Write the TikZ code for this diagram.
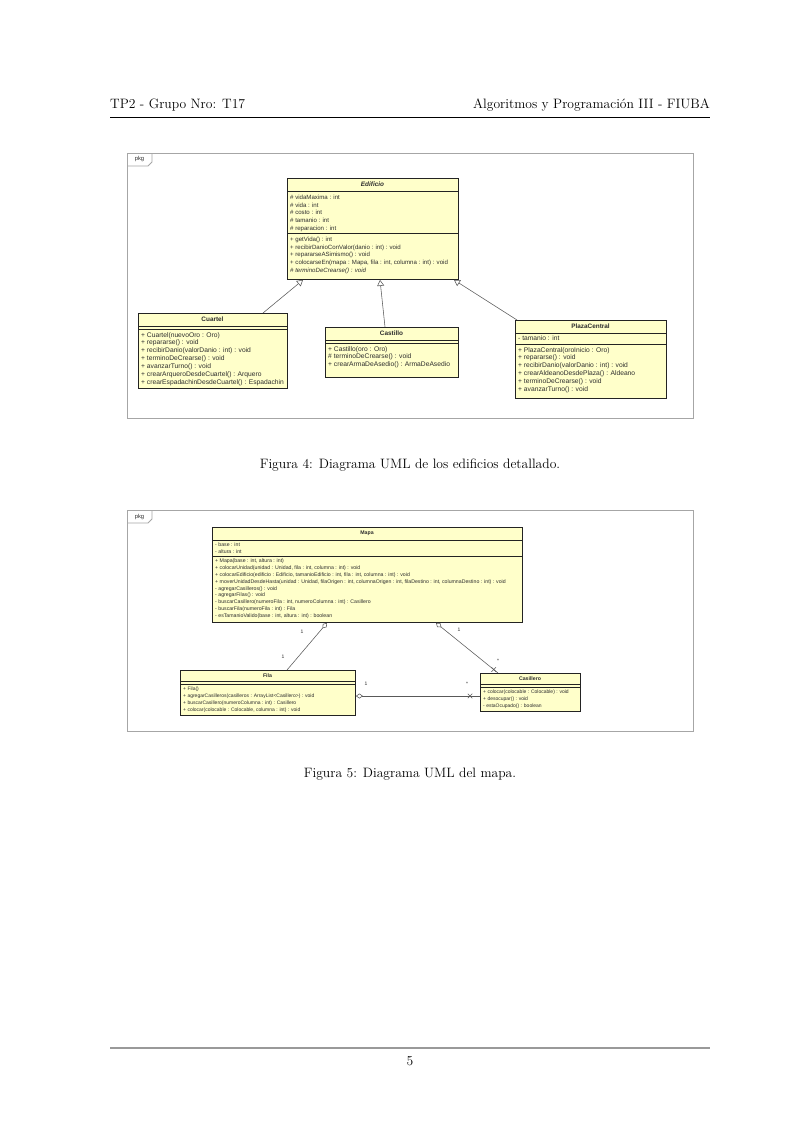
\documentclass[tikz,border=0pt]{standalone}
\usepackage{fontspec}
\newfontfamily\umlfont{Liberation Sans}
\usetikzlibrary{arrows.meta,calc,shapes.misc}
\definecolor{umlfill}{RGB}{255,255,202}
\definecolor{umlline}{RGB}{35,35,35}
\definecolor{umltext}{RGB}{45,45,45}
\newcommand{\pagefont}{\fontsize{13.6}{16}\selectfont}
\begin{document}
\begin{tikzpicture}[x=1pt,y=-1pt,
  cls/.style={draw=umlline, line width=0.9pt, fill=umlfill, inner sep=0, anchor=north west},
  sepline/.style={draw=umlline, line width=0.6pt},
  ttl/.style={inner sep=0, text=umltext, font=\umlfont\bfseries\fontsize{6.4}{7}\selectfont},
  ttlS/.style={inner sep=0, text=umltext, font=\umlfont\bfseries\fontsize{5.2}{6}\selectfont},
  mem/.style={anchor=north west, inner sep=0, align=left, text=umltext,
    font=\umlfont\fontsize{6.7}{7.9}\selectfont},
  memE/.style={mem, font=\umlfont\fontsize{6.1}{7.9}\selectfont},
  memS/.style={mem, font=\umlfont\fontsize{5.2}{6.9}\selectfont},
  memF/.style={mem, font=\umlfont\fontsize{5}{6.9}\selectfont},
  pkgframe/.style={draw=black!35, line width=0.8pt},
  tag/.style={inner sep=0, text=umltext, font=\umlfont\fontsize{5.8}{6}\selectfont},
  gen/.style={draw=black!65, line width=0.55pt, -{Triangle[open, length=6pt, width=7pt]}},
  agg/.style={draw=black!65, line width=0.55pt, {Diamond[open, length=7pt, width=5pt]}-},
  xmark/.style={draw=black!65, line width=0.55pt, cross out, minimum size=4pt, inner sep=0},
  mult/.style={inner sep=0, text=umltext, font=\umlfont\fontsize{5}{6}\selectfont},
  pagetext/.style={inner sep=0, font=\pagefont},
]
\useasboundingbox (0,0) rectangle (810,1145);
\fill[white] (0,0) rectangle (810,1145);

% running header
\node[pagetext, anchor=base west] (hleft) at (110,109) {TP2 - Grupo Nro: T17};
\node[pagetext, anchor=base east] (hright) at (710,109) {Algoritmos y Programación III - FIUBA};
\draw[line width=0.55pt] (110,117) -- (710,117);

% ---------- Figura 4: edificios ----------
\draw[pkgframe] (127,153) rectangle (693,418);
\draw[pkgframe] (127,166) -- (148,166) -- (152,162) -- (152,153);
\node[tag] (pkgA) at (139.5,159.5) {pkg};

% Edificio
\node[cls, minimum width=171, minimum height=101] (edif) at (287,178) {};
\draw[sepline] (287,191) -- (458,191);
\draw[sepline] (287,233) -- (458,233);
\node[ttl] (edifT) at (372.5,184.5) {\itshape Edificio};
\node[memE] (edifA) at (290,194.5) {\# vidaMaxima : int\\\# vida : int\\\# costo : int\\\# tamanio : int\\\# reparacion : int};
\node[memE] (edifM) at (290,236.5) {+ getVida() : int\\+ recibirDanioConValor(danio : int) : void\\+ repararseASimismo() : void\\+ colocarseEn(mapa : Mapa, fila : int, columna : int) : void\\\textit{\# terminoDeCrearse() : void}};

% Cuartel
\node[cls, minimum width=149, minimum height=75] (cuartel) at (138,313) {};
\draw[sepline] (138,326) -- (287,326);
\draw[sepline] (138,329) -- (287,329);
\node[ttl] (cuartelT) at (212.5,319.5) {Cuartel};
\node[mem] (cuartelM) at (141,332) {+ Cuartel(nuevoOro : Oro)\\+ repararse() : void\\+ recibirDanio(valorDanio : int) : void\\+ terminoDeCrearse() : void\\+ avanzarTurno() : void\\+ crearArqueroDesdeCuartel() : Arquero\\+ crearEspadachinDesdeCuartel() : Espadachin};

% Castillo
\node[cls, minimum width=133, minimum height=50] (castillo) at (325,327) {};
\draw[sepline] (325,340) -- (458,340);
\draw[sepline] (325,343) -- (458,343);
\node[ttl] (castilloT) at (391.5,333.5) {Castillo};
\node[mem] (castilloM) at (328,346) {+ Castillo(oro : Oro)\\\# terminoDeCrearse() : void\\+ crearArmaDeAsedio() : ArmaDeAsedio};

% PlazaCentral
\node[cls, minimum width=151, minimum height=78] (plaza) at (515,320) {};
\draw[sepline] (515,333) -- (666,333);
\draw[sepline] (515,344) -- (666,344);
\node[ttl] (plazaT) at (590.5,326.5) {PlazaCentral};
\node[mem] (plazaA) at (518,335.5) {- tamanio : int};
\node[mem] (plazaM) at (518,347) {+ PlazaCentral(oroInicio : Oro)\\+ repararse() : void\\+ recibirDanio(valorDanio : int) : void\\+ crearAldeanoDesdePlaza() : Aldeano\\+ terminoDeCrearse() : void\\+ avanzarTurno() : void};

% generalizations
\draw[gen] ($(cuartel.north west)+(125,0)$) -- ($(edif.south west)+(16,0)$);
\draw[gen] ($(castillo.north west)+(60,0)$) -- ($(edif.south west)+(93,0)$);
\draw[gen] ($(plaza.north west)+(2,0)$) -- ($(edif.south west)+(167,0)$);

\node[pagetext, anchor=base] (cap4) at (410,468) {Figura 4: Diagrama UML de los edificios detallado.};

% ---------- Figura 5: mapa ----------
\draw[pkgframe] (127,510) rectangle (693,731);
\draw[pkgframe] (127,523) -- (148,523) -- (152,519) -- (152,510);
\node[tag] (pkgB) at (139.5,516.5) {pkg};

% Mapa
\node[cls, minimum width=310, minimum height=95] (mapa) at (212,527) {};
\draw[sepline] (212,540) -- (522,540);
\draw[sepline] (212,556) -- (522,556);
\node[ttlS] (mapaT) at (367,533.5) {Mapa};
\node[memS] (mapaA) at (215,542.5) {- base : int\\- altura : int};
\node[memS] (mapaM) at (215,558.5) {+ Mapa(base : int, altura : int)\\+ colocarUnidad(unidad : Unidad, fila : int, columna : int) : void\\+ colocarEdificio(edificio : Edificio, tamanioEdificio : int, fila : int, columna : int) : void\\+ moverUnidadDesdeHasta(unidad : Unidad, filaOrigen : int, columnaOrigen : int, filaDestino : int, columnaDestino : int) : void\\- agregarCasilleros() : void\\- agregarFilas() : void\\- buscarCasillero(numeroFila : int, numeroColumna : int) : Casillero\\- buscarFila(numeroFila : int) : Fila\\- esTamanioValido(base : int, altura : int) : boolean};

% Fila
\node[cls, minimum width=175, minimum height=45] (fila) at (180,670) {};
\draw[sepline] (180,681) -- (355,681);
\draw[sepline] (180,684) -- (355,684);
\node[ttlS] (filaT) at (267.5,675.5) {Fila};
\node[memF] (filaM) at (183,686.5) {+ Fila()\\+ agregarCasilleros(casilleros : ArrayList<Casillero>) : void\\+ buscarCasillero(numeroColumna : int) : Casillero\\+ colocar(colocable : Colocable, columna : int) : void};

% Casillero
\node[cls, minimum width=100, minimum height=38] (casillero) at (480,673) {};
\draw[sepline] (480,684) -- (580,684);
\draw[sepline] (480,687) -- (580,687);
\node[ttlS] (casilleroT) at (530,678.5) {Casillero};
\node[memF] (casilleroM) at (483,689.5) {+ colocar(colocable : Colocable) : void\\+ desocupar() : void\\- estaOcupado() : boolean};

% aggregations
\draw[agg] ($(mapa.south west)+(115,0)$) -- ($(fila.north west)+(107,0)$);
\draw[agg] ($(mapa.south west)+(224,0)$) -- node[xmark, pos=0.93] (xc1) {} ($(casillero.north west)+(18,0)$);
\draw[agg] ($(fila.north east)+(0,26)$) -- node[xmark, pos=0.92] (xc2) {} ($(casillero.north west)+(0,23)$);

\node[mult] (m1) at (302,632) {1};
\node[mult] (m2) at (283,657) {1};
\node[mult] (m3) at (459,630) {1};
\node[mult] (m4) at (498,661) {*};
\node[mult] (m5) at (366,684) {1};
\node[mult] (m6) at (467,684) {*};

\node[pagetext, anchor=base] (cap5) at (410,777) {Figura 5: Diagrama UML del mapa.};

% running footer
\draw[line width=1.2pt, black!40] (110,1048) -- (710,1048);
\node[pagetext, anchor=base] (pnum) at (410,1065) {5};
\end{tikzpicture}
\end{document}
